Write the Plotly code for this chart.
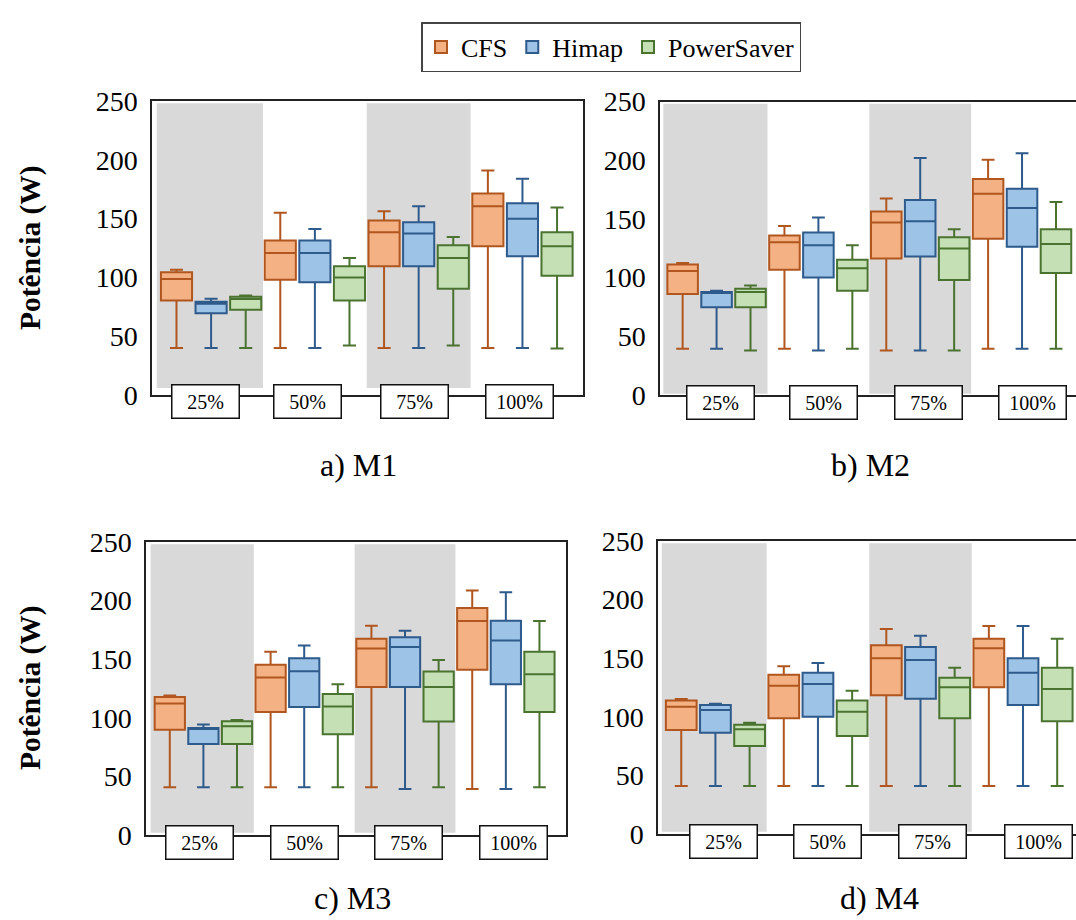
import plotly.graph_objects as go

# ---------------- data ----------------
groups = ["25%", "50%", "75%", "100%"]
series = ["CFS", "Himap", "PowerSaver"]
panels = ["a) M1", "b) M2", "c) M3", "d) M4"]

# M1
m1_cfs_min = [40, 40, 40, 40]
m1_cfs_q1 = [80.4, 98, 109.4, 126.4]
m1_cfs_med = [98.6, 120.8, 138.4, 160.5]
m1_cfs_q3 = [104.3, 131.3, 148.3, 171.4]
m1_cfs_max = [106.6, 154.9, 156.3, 191]
m1_him_min = [40, 40, 40, 40]
m1_him_q1 = [69.6, 95.8, 109.4, 117.9]
m1_him_med = [77.6, 120.8, 137.3, 149.8]
m1_him_q3 = [79.3, 131.3, 146.9, 163.1]
m1_him_max = [81.8, 141.2, 160.5, 183.9]
m1_ps_min = [40, 42, 42, 39.5]
m1_ps_q1 = [72.5, 80.4, 90.4, 101.4]
m1_ps_med = [81.6, 100, 116.5, 126.4]
m1_ps_q3 = [83.5, 109.4, 127.3, 138.4]
m1_ps_max = [84.7, 116.5, 134.4, 159.4]

# M2
m2_cfs_min = [39.5, 39.5, 38, 39.5]
m2_cfs_q1 = [86.1, 106.6, 116.2, 133]
m2_cfs_med = [105.7, 130.2, 146.9, 171.4]
m2_cfs_q3 = [111.1, 135.8, 156.3, 183.9]
m2_cfs_max = [112.5, 144, 167.4, 200.3]
m2_him_min = [39.5, 38, 38, 39.5]
m2_him_q1 = [74.8, 100, 117.9, 126.2]
m2_him_med = [87.3, 127.6, 148.1, 159.2]
m2_him_q3 = [87.8, 138.4, 166.2, 175.6]
m2_him_max = [88.9, 151.2, 201.8, 206]
m2_ps_min = [38, 39.5, 38, 39.5]
m2_ps_q1 = [74.8, 88.9, 98, 104]
m2_ps_med = [87.8, 108, 124.7, 128.7]
m2_ps_q3 = [90.4, 115.1, 134.4, 141.2]
m2_ps_max = [93.2, 127.6, 141.2, 164.5]

# M3
m3_cfs_min = [40.7, 40.7, 40.7, 39.3]
m3_cfs_q1 = [89.7, 105, 126.2, 140.9]
m3_cfs_med = [112.1, 134.4, 159.1, 182.5]
m3_cfs_q3 = [117.8, 145.2, 167.4, 193.6]
m3_cfs_max = [119, 156.3, 178.5, 208.6]
m3_him_min = [40.7, 40.7, 39.3, 39.3]
m3_him_q1 = [77.7, 109.3, 126.2, 128.7]
m3_him_med = [91, 139.8, 160.5, 165.9]
m3_him_q3 = [91.4, 150.9, 168.8, 182.8]
m3_him_max = [94.2, 161.7, 174.2, 207.2]
m3_ps_min = [40.7, 40.7, 40.7, 40.7]
m3_ps_q1 = [77.7, 86, 96.8, 105]
m3_ps_med = [92.8, 109.6, 126.2, 137.2]
m3_ps_q3 = [97.1, 120.4, 139.5, 156.3]
m3_ps_max = [98.2, 128.7, 149.4, 182.7]

# M4
m4_cfs_min = [41, 41, 41, 41]
m4_cfs_q1 = [88.7, 98.7, 118.3, 125.2]
m4_cfs_med = [108.6, 126.5, 149.9, 158.4]
m4_cfs_q3 = [114, 135.9, 161, 166.6]
m4_cfs_max = [115.2, 143.1, 174.9, 177.5]
m4_him_min = [41, 41, 41, 41]
m4_him_q1 = [86.4, 100.1, 115.4, 110.1]
m4_him_med = [105.8, 128, 148.5, 137.6]
m4_him_q3 = [110.1, 137.6, 159.6, 149.9]
m4_him_max = [111.2, 145.9, 169.2, 177.5]
m4_ps_min = [41, 41, 41, 41]
m4_ps_q1 = [75.1, 83.6, 98.7, 96.2]
m4_ps_med = [89.3, 104.4, 125.2, 123.7]
m4_ps_q3 = [93.3, 114, 133.4, 141.9]
m4_ps_max = [95, 122.3, 141.9, 166.6]

y_ticks = [0, 50, 100, 150, 200, 250]
y_title = "Potência (W)"

# ---------------- assembling ----------------
stats = {
    0: [(m1_cfs_min, m1_cfs_q1, m1_cfs_med, m1_cfs_q3, m1_cfs_max),
        (m1_him_min, m1_him_q1, m1_him_med, m1_him_q3, m1_him_max),
        (m1_ps_min, m1_ps_q1, m1_ps_med, m1_ps_q3, m1_ps_max)],
    1: [(m2_cfs_min, m2_cfs_q1, m2_cfs_med, m2_cfs_q3, m2_cfs_max),
        (m2_him_min, m2_him_q1, m2_him_med, m2_him_q3, m2_him_max),
        (m2_ps_min, m2_ps_q1, m2_ps_med, m2_ps_q3, m2_ps_max)],
    2: [(m3_cfs_min, m3_cfs_q1, m3_cfs_med, m3_cfs_q3, m3_cfs_max),
        (m3_him_min, m3_him_q1, m3_him_med, m3_him_q3, m3_him_max),
        (m3_ps_min, m3_ps_q1, m3_ps_med, m3_ps_q3, m3_ps_max)],
    3: [(m4_cfs_min, m4_cfs_q1, m4_cfs_med, m4_cfs_q3, m4_cfs_max),
        (m4_him_min, m4_him_q1, m4_him_med, m4_him_q3, m4_him_max),
        (m4_ps_min, m4_ps_q1, m4_ps_med, m4_ps_q3, m4_ps_max)],
}

fills = ["#F4B183", "#9DC3E6", "#C5E0B4"]
lines = ["#B0561E", "#2E5A8C", "#4A7330"]

W, H = 1076, 920
FONT = "Liberation Serif"

# layout (pixel frames) per panel: left, right, top, bottom, x-range
frames = [
    dict(l=152, r=583, t=101, b=395, xr=[-0.708, 11.75], mirror=True,
         lab_off=[-0.17, -0.2, -0.12, -0.09], lab_y=401, gray_y0=6),
    dict(l=660, r=1076, t=101.5, b=395, xr=[-0.667, 11.59], mirror=False,
         lab_off=[0.11, 0.14, 0.24, 0.3], lab_y=402.5, gray_y0=1),
    dict(l=146, r=566, t=542, b=835, xr=[-0.708, 11.79], mirror=True,
         lab_off=[-0.11, 0.0, 0.1, 0.24], lab_y=842.5, gray_y0=2),
    dict(l=658, r=1076, t=541, b=834, xr=[-0.68, 11.55], mirror=False,
         lab_off=[0.25, 0.27, 0.36, 0.46], lab_y=841, gray_y0=2),
]
# panel title anchor (x centre, y bottom) in pixels
titles_pos = [(358, 485), (870, 485), (352, 918), (879, 918)]

fig = go.Figure()
shapes = []
annotations = []

for p in range(4):
    fr = frames[p]
    sfx = "" if p == 0 else str(p + 1)
    xa, ya = "x" + sfx, "y" + sfx
    for s, name in enumerate(series):
        mn, q1, md, q3, mx = stats[p][s]
        xs = [3 * g + s for g in range(len(groups))]
        fig.add_trace(go.Box(
            x=xs, lowerfence=mn, q1=q1, median=md, q3=q3, upperfence=mx,
            name=name, legendgroup=name, showlegend=(p == 0),
            fillcolor=fills[s], line=dict(color=lines[s], width=2),
            width=0.9, whiskerwidth=0.42, boxpoints=False,
            hoverinfo="skip", xaxis=xa, yaxis=ya,
        ))
    dom_x = [fr["l"] / W, fr["r"] / W]
    dom_y = [1 - fr["b"] / H, 1 - fr["t"] / H]
    fig.layout["xaxis" + sfx] = dict(
        domain=dom_x, range=fr["xr"], anchor=ya, showticklabels=False,
        showgrid=False, zeroline=False, showline=True, mirror=True,
        linecolor="#222", linewidth=1.5, ticks="", fixedrange=True, automargin=False)
    fig.layout["yaxis" + sfx] = dict(
        domain=dom_y, range=[0, 250], anchor=xa, tickvals=y_ticks,
        showgrid=False, zeroline=False, showline=True, mirror=fr["mirror"],
        linecolor="#222", linewidth=1.5, ticks="", ticklabelstandoff=7,
        tickfont=dict(family=FONT, size=28, color="black"), fixedrange=True,
        automargin=False)
    # gray bands behind 25% and 75%
    for g in (0, 2):
        x0 = 3 * g - 0.5 - (0.07 if g == 0 else 0)
        shapes.append(dict(type="rect", xref=xa, yref=ya, x0=x0, x1=3 * g + 2.5,
                           y0=fr["gray_y0"], y1=248, fillcolor="#D9D9D9",
                           line=dict(width=0), layer="below"))
    # group labels in boxes
    for g, lab in enumerate(groups):
        annotations.append(dict(
            x=3 * g + 1 + fr["lab_off"][g], xref=xa, y=1 - fr["lab_y"] / H, yref="paper",
            text=lab, showarrow=False, font=dict(family=FONT, size=20, color="black"),
            bgcolor="white", bordercolor="#111", borderwidth=1.5, borderpad=1,
            width=64, height=30, xanchor="center", yanchor="middle"))
    # panel title
    tx, ty = titles_pos[p]
    annotations.append(dict(x=tx / W, y=1 - ty / H, xref="paper", yref="paper",
                            text=panels[p], showarrow=False, xanchor="center",
                            yanchor="bottom", font=dict(family=FONT, size=32, color="black")))

# y axis titles
for yc in (248, 688):
    annotations.append(dict(x=30 / W, y=1 - yc / H, xref="paper", yref="paper",
                            text="<b>" + y_title + "</b>", textangle=-90, showarrow=False,
                            xanchor="center", yanchor="middle",
                            font=dict(family=FONT, size=29.5, color="black")))

fig.update_layout(
    width=W, height=H, margin=dict(l=0, r=0, t=0, b=0, autoexpand=False),
    paper_bgcolor="white", plot_bgcolor="white",
    boxmode="overlay", shapes=shapes, annotations=annotations,
    legend=dict(orientation="h", x=611 / W, xanchor="center", y=1 - 22 / H, yanchor="top",
                bordercolor="#444", borderwidth=1.5, bgcolor="white",
                font=dict(family=FONT, size=26, color="black"),
                itemclick=False, itemdoubleclick=False),
    font=dict(family=FONT, color="black"),
)

fig.write_html("out.html", config={"displayModeBar": False})
